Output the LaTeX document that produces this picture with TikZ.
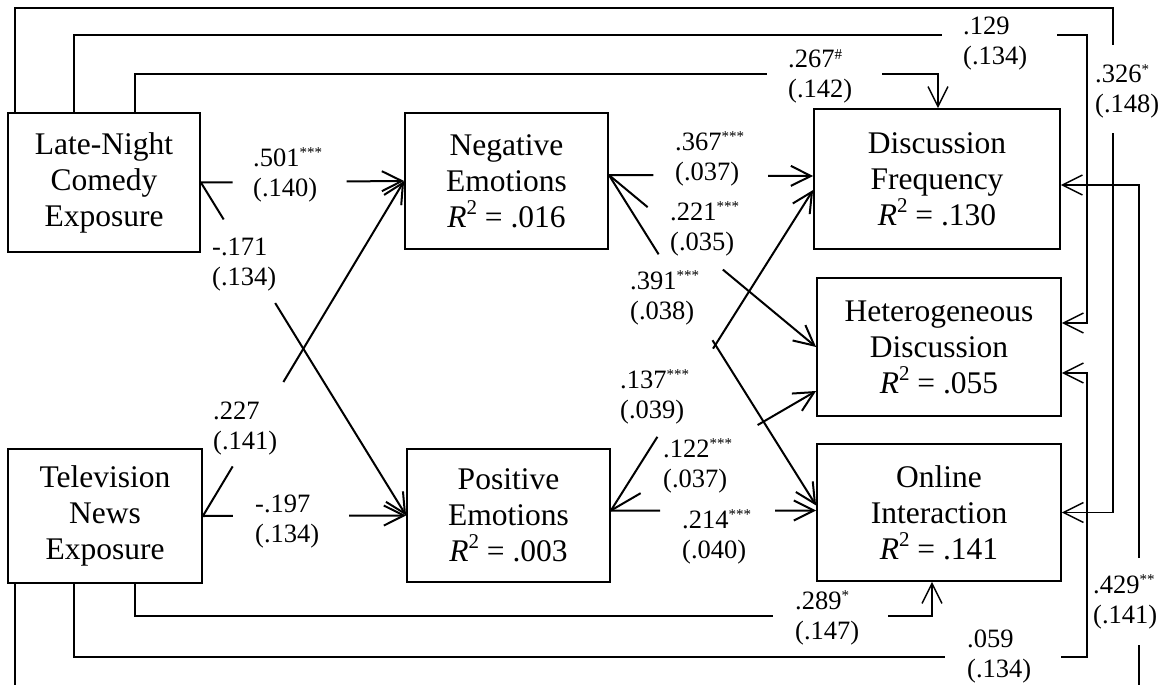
\documentclass[tikz,border=0pt]{standalone}
\usepackage{fontspec}
\setmainfont{Liberation Serif}
\usetikzlibrary{arrows.meta,calc}

% significance marks and R-squared
\newcommand\stars[1]{\raisebox{9pt}{\fontsize{15}{15}\selectfont #1}}
\newcommand\rsq{\textit{R}\raisebox{13pt}{\fontsize{21}{21}\selectfont 2}}
% two-line coefficient label: estimate over standard error
\newcommand\pair[2]{\vtop{\hbox{#1}\hbox{#2}}}

\tikzset{
  box/.style={draw, line width=1.8pt, align=center, inner sep=0pt,
              font=\fontsize{31.5}{36}\selectfont},
  coef/.style={anchor=base west, inner sep=0pt,
               font=\fontsize{26.5}{30}\selectfont},
  link/.style={line width=2pt},
  route/.style={line width=1.4pt},
  arr/.style={-{Straight Barb[length=20pt,width=20pt]}}
}

\begin{document}
\begin{tikzpicture}[x=1pt,y=-1pt]
\useasboundingbox (0,0) rectangle (1165,685);
\clip (0,0) rectangle (1165,685);

% ---- variables ----
\node[box, minimum width=192pt, minimum height=139pt] (lnc) at (104,182.5) {Late-Night\\Comedy\\Exposure};
\node[box, minimum width=194pt, minimum height=134pt] (tv)  at (105,516) {Television\\News\\Exposure};
\node[box, minimum width=203pt, minimum height=136pt] (neg) at (506.5,181) {Negative\\Emotions\\\rsq{} = .016};
\node[box, minimum width=203pt, minimum height=133pt] (pos) at (508.5,515.5) {Positive\\Emotions\\\rsq{} = .003};
\node[box, minimum width=246pt, minimum height=140pt] (dfq) at (937,179) {Discussion\\Frequency\\\rsq{} = .130};
\node[box, minimum width=244pt, minimum height=138pt] (het) at (939,347) {Heterogeneous\\Discussion\\\rsq{} = .055};
\node[box, minimum width=244pt, minimum height=137pt] (onl) at (939,512.5) {Online\\Interaction\\\rsq{} = .141};

% ---- ports on the box sides ----
\coordinate (neo)  at ([yshift=6pt]neg.east);
\coordinate (peo)  at ([yshift=5pt]pos.east);
\coordinate (dfa)  at ([yshift=3pt]dfq.west);
\coordinate (dfb)  at ([yshift=-11pt]dfq.west);
\coordinate (hdb)  at ([yshift=-44pt]het.west);
\coordinate (oia)  at ([yshift=7pt]onl.west);
\coordinate (oib)  at ([yshift=2pt]onl.west);
\coordinate (dfr)  at ([yshift=-6pt]dfq.east);
\coordinate (hdr1) at ([yshift=24pt]het.east);
\coordinate (hdr2) at ([yshift=-26pt]het.east);
\coordinate (dft)  at ([xshift=1pt]dfq.north);
\coordinate (oit)  at ([xshift=-7pt]onl.south);

% ---- exposure -> emotions ----
\draw[link] (lnc.east) -- ($(lnc.east)!0.156!(neg.west)$);
\draw[link,arr] ($(lnc.east)!0.717!(neg.west)$) -- (neg.west);
\draw[link] (lnc.east) -- ($(lnc.east)!0.111!(pos.west)$);
\draw[link,arr] ($(lnc.east)!0.362!(pos.west)$) -- (pos.west);
\draw[link] (tv.east) -- ($(tv.east)!0.148!(neg.west)$);
\draw[link,arr] ($(tv.east)!0.40!(neg.west)$) -- (neg.west);
\draw[link] (tv.east) -- ($(tv.east)!0.147!(pos.west)$);
\draw[link,arr] ($(tv.east)!0.72!(pos.west)$) -- (pos.west);

% ---- emotions -> outcomes ----
\draw[link] (neo) -- ($(neo)!0.218!(dfa)$);
\draw[link,arr] ($(neo)!0.78!(dfa)$) -- (dfa);
\draw[link] (neo) -- ($(neo)!0.187!(het.west)$);
\draw[link,arr] ($(neo)!0.55!(het.west)$) -- (het.west);
\draw[link] (neo) -- ($(neo)!0.24!(oia)$);
\draw[link,arr] ($(neo)!0.50!(oia)$) -- (oia);
\draw[link] (peo) -- ($(peo)!0.23!(dfb)$);
\draw[link,arr] ($(peo)!0.505!(dfb)$) -- (dfb);
\draw[link] (peo) -- ($(peo)!0.145!(hdb)$);
\draw[link,arr] ($(peo)!0.715!(hdb)$) -- (hdb);
\draw[link] (peo) -- ($(peo)!0.24!(oib)$);
\draw[link,arr] ($(peo)!0.80!(oib)$) -- (oib);

% ---- direct paths routed around the outside ----
\coordinate (a0) at (1113,8);
\coordinate (a1) at (1113,45);
\coordinate (a2) at (1113,133);
\draw[route] ([xshift=-89pt]lnc.north) |- (a0) -- (a1);
\draw[route,arr] (a2) |- (onl.east);

\coordinate (b0) at (942,35);
\coordinate (b1) at (1057,35);
\coordinate (b2) at (1087,35);
\draw[route] ([xshift=-30pt]lnc.north) |- (b0);
\draw[route,arr] (b1) -- (b2) |- (hdr1);

\coordinate (c0) at (767,74);
\coordinate (c1) at (882,74);
\draw[route] ([xshift=31pt]lnc.north) |- (c0);
\draw[route,arr] (c1) -| (dft);

\coordinate (d0) at (773,616);
\coordinate (d1) at (888,616);
\draw[route] ([xshift=30pt]tv.south) |- (d0);
\draw[route,arr] (d1) -| (oit);

\coordinate (e0) at (945,657);
\coordinate (e1) at (1061,657);
\coordinate (e2) at (1087,657);
\draw[route] ([xshift=-31pt]tv.south) |- (e0);
\draw[route,arr] (e1) -- (e2) |- (hdr2);

\coordinate (f0) at (1139,700);
\coordinate (f1) at (1139,645);
\coordinate (f2) at (1139,558);
\draw[route] ([xshift=-90pt]tv.south) |- (f0) -- (f1);
\draw[route,arr] (f2) |- (dfr);

% ---- coefficients ----
\node[coef] (l129) at (963,35)  {\pair{.129}{(.134)}};
\node[coef] (l267) at (788,68)  {\pair{.267\stars{\#}}{(.142)}};
\node[coef] (l326) at (1095,83) {\pair{.326\stars{*}}{(.148)}};
\node[coef] (l501) at (253,166) {\pair{.501\stars{***}}{(.140)}};
\node[coef] (l171) at (212,255) {\pair{-.171}{(.134)}};
\node[coef] (l227) at (213,419) {\pair{.227}{(.141)}};
\node[coef] (l197) at (255,512) {\pair{-.197}{(.134)}};
\node[coef] (l367) at (675,150) {\pair{.367\stars{***}}{(.037)}};
\node[coef] (l221) at (670,220) {\pair{.221\stars{***}}{(.035)}};
\node[coef] (l391) at (630,289) {\pair{.391\stars{***}}{(.038)}};
\node[coef] (l137) at (620,388) {\pair{.137\stars{***}}{(.039)}};
\node[coef] (l122) at (663,457) {\pair{.122\stars{***}}{(.037)}};
\node[coef] (l214) at (682,528) {\pair{.214\stars{***}}{(.040)}};
\node[coef] (l289) at (795,609) {\pair{.289\stars{*}}{(.147)}};
\node[coef] (l059) at (967,647) {\pair{.059}{(.134)}};
\node[coef] (l429) at (1093,593) {\pair{.429\stars{**}}{(.141)}};
\end{tikzpicture}
\end{document}
